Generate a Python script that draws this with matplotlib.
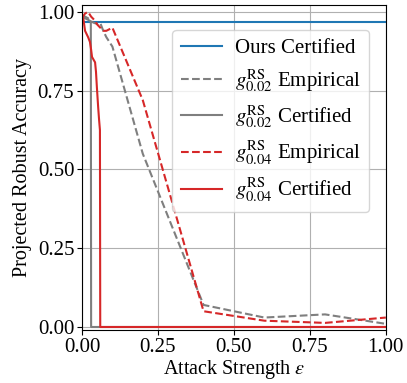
import numpy as np
import matplotlib
matplotlib.use("Agg")
import matplotlib.pyplot as plt

plt.rcParams['font.family'] = ['Liberation Serif', 'DejaVu Serif']
plt.rcParams['mathtext.fontset'] = 'stix'
plt.rcParams['font.size'] = 15

# Ours certified
eps_ours = [0.0, 1.0]
acc_ours = [0.967, 0.967]

# g_0.02 / g_0.04 empirical (attack results)
eps_emp = [0, 0.01, 0.02, 0.03, 0.04, 0.05, 0.06, 0.07, 0.08, 0.09, 0.1,
           0.2, 0.4, 0.6, 0.8, 1.0]
acc_emp_002 = [0.99, 0.985, 0.98, 0.97, 0.965, 0.962, 0.965, 0.94, 0.92, 0.905, 0.89,
               0.55, 0.07, 0.03, 0.04, 0.01]
acc_emp_004 = [0.98, 0.995, 1.0, 0.985, 0.975, 0.96, 0.95, 0.94, 0.94, 0.945, 0.95,
               0.72, 0.05, 0.02, 0.013, 0.03]

# certified curves
eps_cert_002 = [0, 0.01, 0.02, 0.029, 0.03, 1.0]
acc_cert_002 = [0.985, 0.98, 0.975, 0.97, 0.0, 0.0]

eps_cert_004 = [0, 0.005, 0.01, 0.02, 0.026, 0.03, 0.033, 0.04, 0.043, 0.046,
                0.049, 0.053, 0.056, 0.059, 0.06, 1.0]
acc_cert_004 = [0.99, 0.975, 0.94, 0.92, 0.905, 0.88, 0.857, 0.845, 0.84, 0.81,
                0.76, 0.70, 0.66, 0.625, 0.0, 0.0]

fig = plt.figure(figsize=(4.07, 3.83), dpi=100)
ax = fig.add_axes([0.2015, 0.138, 0.7465, 0.849])

ax.plot(eps_ours, acc_ours, color='tab:blue', label='Ours Certified')
ax.plot(eps_emp, acc_emp_002, color='tab:gray', ls='--',
        label=r'$g^{\mathrm{RS}}_{0.02}$ Empirical')
ax.plot(eps_cert_002, acc_cert_002, color='tab:gray',
        label=r'$g^{\mathrm{RS}}_{0.02}$ Certified')
ax.plot(eps_emp, acc_emp_004, color='tab:red', ls='--',
        label=r'$g^{\mathrm{RS}}_{0.04}$ Empirical')
ax.plot(eps_cert_004, acc_cert_004, color='tab:red',
        label=r'$g^{\mathrm{RS}}_{0.04}$ Certified')

ax.set_xlim(0, 1)
ax.set_ylim(-0.01, 1.022)
ax.set_xticks([0, 0.25, 0.5, 0.75, 1.0])
ax.set_yticks([0, 0.25, 0.5, 0.75, 1.0])
ax.xaxis.set_major_formatter(matplotlib.ticker.FormatStrFormatter('%.2f'))
ax.yaxis.set_major_formatter(matplotlib.ticker.FormatStrFormatter('%.2f'))
ax.tick_params(labelsize=15, pad=2)
ax.grid(True, color='#b0b0b0', lw=0.8)
ax.set_xlabel(r'Attack Strength $\epsilon$', fontsize=14.5, labelpad=1)
ax.set_ylabel('Projected Robust Accuracy', fontsize=14.5, labelpad=4)
ax.legend(loc='upper right', bbox_to_anchor=(0.98, 0.955), handlelength=2.0,
          fontsize=15, borderpad=0.4, labelspacing=0.45, handletextpad=0.6)

fig.savefig('out.png', dpi=100)
